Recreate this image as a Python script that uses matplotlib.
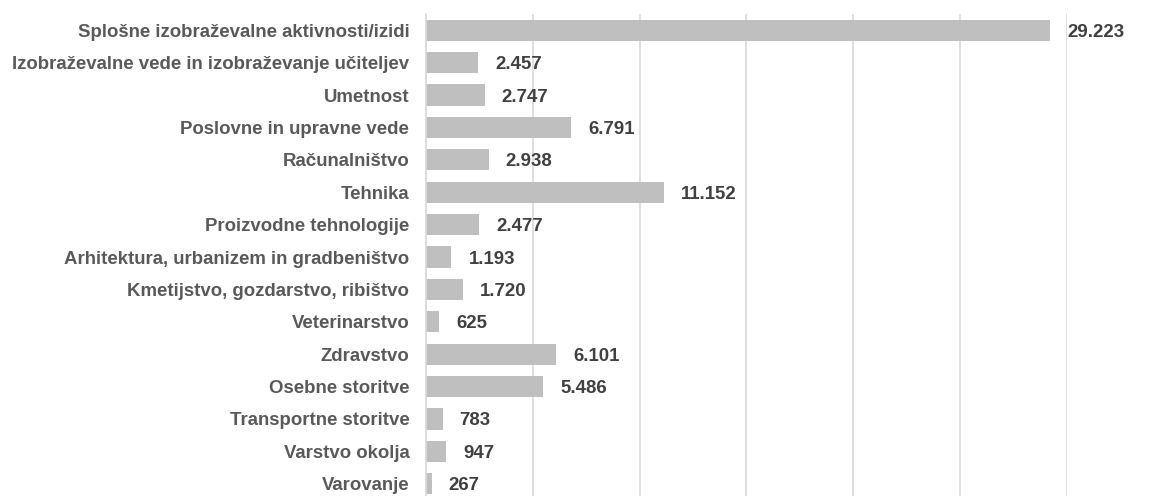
import numpy as np
import matplotlib.pyplot as plt

categories = [
    "Splošne izobraževalne aktivnosti/izidi",
    "Izobraževalne vede in izobraževanje učiteljev",
    "Umetnost",
    "Poslovne in upravne vede",
    "Računalništvo",
    "Tehnika",
    "Proizvodne tehnologije",
    "Arhitektura, urbanizem in gradbeništvo",
    "Kmetijstvo, gozdarstvo, ribištvo",
    "Veterinarstvo",
    "Zdravstvo",
    "Osebne storitve",
    "Transportne storitve",
    "Varstvo okolja",
    "Varovanje",
]
values = [29223, 2457, 2747, 6791, 2938, 11152, 2477, 1193, 1720, 625, 6101, 5486, 783, 947, 267]

plt.rcParams['font.family'] = ['Liberation Sans', 'DejaVu Sans']

fig = plt.figure(figsize=(11.59, 4.96), dpi=100)
ax = fig.add_axes([426 / 1159, -4 / 496, (1066.7 - 426) / 1159, 486 / 496])

y = np.arange(len(categories))
ax.barh(y, values, height=0.65, color='#BFBFBF', zorder=2)
ax.set_ylim(len(categories) - 0.5, -0.5)
ax.set_xlim(0, 30000)

ax.set_xticks(np.arange(0, 30001, 5000))
ax.xaxis.grid(True, color='#D9D9D9', linewidth=1.2, zorder=0)
ax.tick_params(axis='x', length=0, labelbottom=False)
ax.tick_params(axis='y', length=0, pad=12)
ax.set_yticks(y)
ax.set_yticklabels(categories, fontsize=13.4, fontweight='bold', color='#595959')

for s in ['top', 'right', 'bottom']:
    ax.spines[s].set_visible(False)
ax.spines['left'].set_color('#D9D9D9')
ax.spines['left'].set_linewidth(1.2)

for yi, v in zip(y, values):
    lbl = f"{v:,}".replace(",", ".")
    ax.annotate(lbl, (v, yi), xytext=(17, -2), textcoords='offset pixels',
                va='center', ha='left', fontsize=13.4, fontweight='bold',
                color='#404040', annotation_clip=False)

fig.savefig("out.png", dpi=100)
